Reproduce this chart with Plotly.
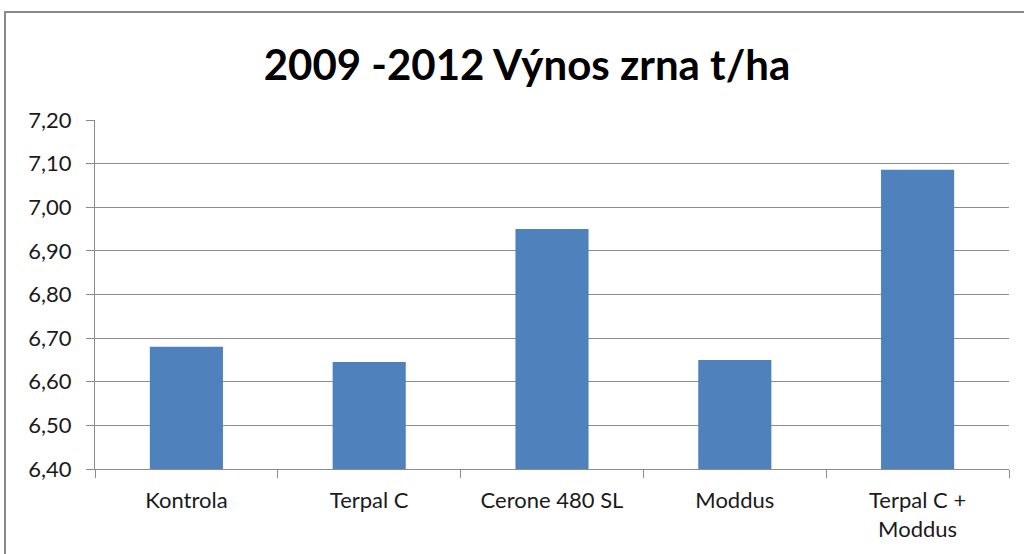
import plotly.graph_objects as go

categories = ["Kontrola", "Terpal C", "Cerone 480 SL", "Moddus", "Terpal C +<br>Moddus"]
values = [6.68, 6.645, 6.95, 6.65, 7.086]
y_ticks = [6.40, 6.50, 6.60, 6.70, 6.80, 6.90, 7.00, 7.10, 7.20]
y_labels = [f"{v:.2f}".replace(".", ",") for v in y_ticks]
title_text = "2009 -2012 Výnos zrna t/ha"

fig = go.Figure(go.Bar(
    x=categories, y=values,
    marker=dict(color="#4F81BD", line=dict(width=0)),
))

grid = "#8C8C8C"
W, H = 1024, 554
fig.update_layout(
    width=W, height=H,
    margin=dict(l=95, r=15, t=120, b=85),
    paper_bgcolor="white", plot_bgcolor="white",
    bargap=0.6,
    showlegend=False,
    title=dict(text=title_text, x=527 / W, xanchor="center", y=1 - 65 / H, yanchor="middle",
               font=dict(family="Lato", size=42, color="black", weight="bold")),
    font=dict(family="Lato", size=22, color="#1a1a1a"),
    xaxis=dict(showline=True, linecolor=grid, linewidth=1, ticks="outside", tickson="boundaries",
               ticklen=8, tickcolor=grid, showgrid=False, tickfont=dict(size=22),
               ticklabelstandoff=12),
    yaxis=dict(range=[6.40, 7.20], tickvals=y_ticks, ticktext=y_labels, showline=True,
               linecolor=grid, linewidth=1, ticks="outside", ticklen=8, tickcolor=grid,
               showgrid=True, gridcolor=grid, gridwidth=1, zeroline=False,
               tickfont=dict(size=22), ticklabelstandoff=10),
    shapes=[dict(type="rect", xref="paper", yref="paper",
                 x0=(5 - 95) / 914, x1=1.2, y0=-0.6, y1=1 + (120 - 12) / 349,
                 line=dict(color="#888888", width=2), fillcolor="rgba(0,0,0,0)", layer="below")],
)

fig.write_html("out.html", config={"displayModeBar": False},
               post_script="document.body.style.margin='0';")
